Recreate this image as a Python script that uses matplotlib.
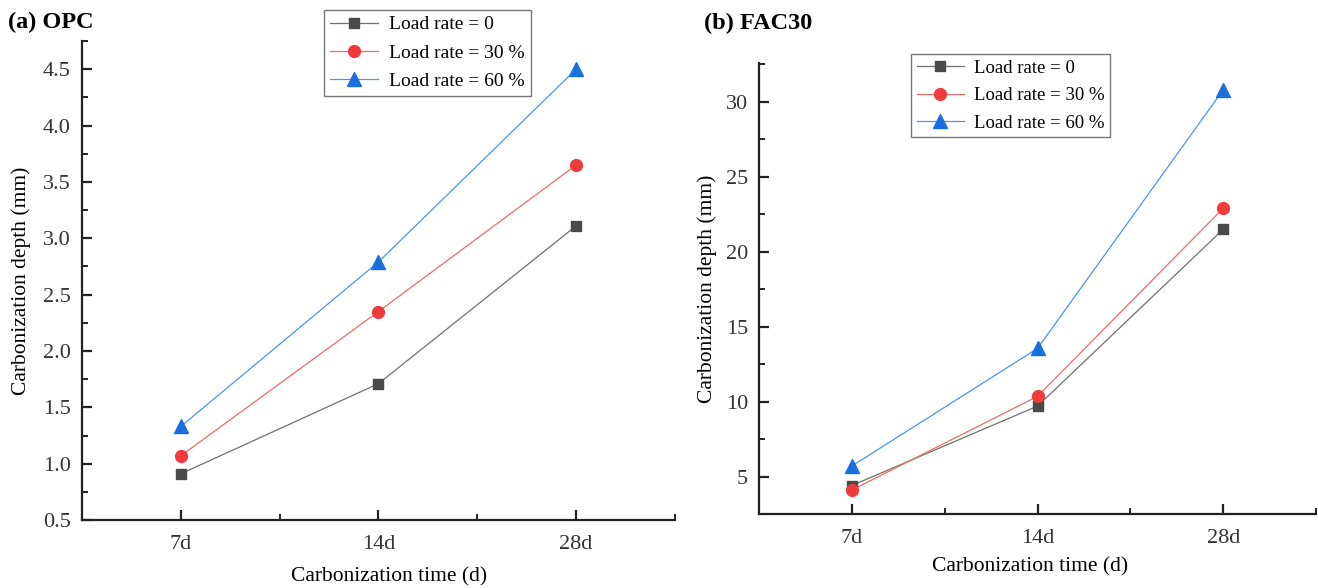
import matplotlib
matplotlib.use('Agg')
import matplotlib.pyplot as plt
from matplotlib.ticker import MultipleLocator, FormatStrFormatter

plt.rcParams['font.family'] = ['Liberation Serif', 'DejaVu Serif']

times = ['7d', '14d', '28d']
labels = ['Load rate = 0', 'Load rate = 30 %', 'Load rate = 60 %']

opc_0 = [0.91, 1.71, 3.11]
opc_30 = [1.07, 2.35, 3.65]
opc_60 = [1.33, 2.79, 4.50]

fac_0 = [4.4, 9.7, 21.5]
fac_30 = [4.1, 10.35, 22.9]
fac_60 = [5.7, 13.55, 30.8]

markers = ['s', 'o', '^']
msizes = [7.5, 8.5, 9.5]
mcolors = ['#4a4a4a', '#ef3b3b', '#1a6fe0']
lcolors = ['#707070', '#f06a6a', '#4d94ea']

fig = plt.figure(figsize=(13.18, 5.88), dpi=100)
ax1 = fig.add_axes([0.0622, 0.1156, 0.4499, 0.8146])
ax2 = fig.add_axes([0.5759, 0.1259, 0.4226, 0.7670])


def draw(ax, series, ylim, major, minor, fmt):
    x = range(len(times))
    for s, lab, m, ms, mc, lc in zip(series, labels, markers, msizes, mcolors, lcolors):
        ax.plot(x, s, color=lc, lw=0.9, marker=m, ms=ms, mfc=mc, mec=mc, label=lab)
    ax.set_xlim(-0.5, 2.5)
    ax.set_ylim(*ylim)
    ax.set_xticks(list(x))
    ax.set_xticklabels(times)
    ax.xaxis.set_minor_locator(MultipleLocator(0.5))
    ax.yaxis.set_major_locator(MultipleLocator(major))
    ax.yaxis.set_minor_locator(MultipleLocator(minor))
    ax.yaxis.set_major_formatter(FormatStrFormatter(fmt))
    for sp in ['top', 'right']:
        ax.spines[sp].set_visible(False)
    for sp in ['left', 'bottom']:
        ax.spines[sp].set_linewidth(1.6)
        ax.spines[sp].set_color('#222222')
    ax.tick_params(which='major', direction='in', length=7, width=1.6, labelsize=16,
                   color='#222222', labelcolor='#333333', pad=8)
    ax.tick_params(axis='x', which='major', pad=11)
    ax.tick_params(which='minor', direction='in', length=4.5, width=1.4, color='#222222')
    ax.set_xlabel('Carbonization time (d)', fontsize=15.5)
    ax.set_ylabel('Carbonization depth (mm)', fontsize=15.5)


draw(ax1, [opc_0, opc_30, opc_60], (0.5, 4.75), 0.5, 0.25, '%.1f')
draw(ax2, [fac_0, fac_30, fac_60], (2.5, 32.6), 5, 2.5, '%d')

ax1.xaxis.set_label_coords(0.518, -0.098)
ax1.yaxis.set_label_coords(-0.086, 0.5)
ax2.xaxis.set_label_coords(0.487, -0.096)
ax2.yaxis.set_label_coords(-0.075, 0.5)

fig.text(8 / 1318, 1 - 22 / 588, '(a) OPC', fontsize=17.5, fontweight='bold', va='center', ha='left')
fig.text(704 / 1318, 1 - 23 / 588, '(b) FAC30', fontsize=17.5, fontweight='bold', va='center', ha='left')

for ax, anchor, fs in [(ax1, (324 / 1318, 1 - 10 / 588), 14),
                       (ax2, (911 / 1318, 1 - 54 / 588), 13.5)]:
    leg = ax.legend(loc='upper left', bbox_to_anchor=anchor, bbox_transform=fig.transFigure,
                    fontsize=fs, frameon=True, fancybox=False, edgecolor='#555555',
                    handlelength=2.5, handletextpad=0.55, labelspacing=0.55,
                    borderpad=0.3, borderaxespad=0)
    leg.get_frame().set_linewidth(1.0)

fig.savefig('out.png', dpi=100)
